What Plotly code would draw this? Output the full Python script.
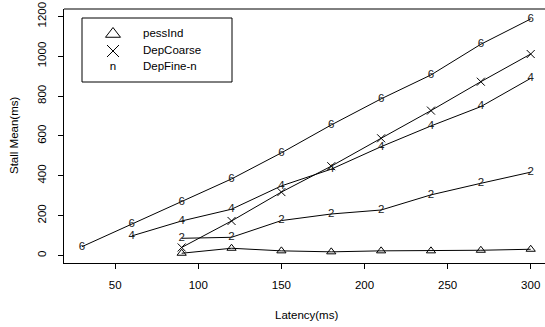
import plotly.graph_objects as go

# ---- data ----
latency_pess = [90, 120, 150, 180, 210, 240, 270, 300]
pess_ind = [11, 36, 23, 18, 23, 23, 26, 31]

latency_coarse = [90, 120, 150, 180, 210, 240, 270, 300]
dep_coarse = [40, 173, 318, 448, 588, 727, 872, 1011]

latency_fine2 = [90, 120, 150, 180, 210, 240, 270, 300]
dep_fine2 = [86, 91, 175, 208, 228, 304, 362, 418]

latency_fine4 = [60, 90, 120, 150, 180, 210, 240, 270, 300]
dep_fine4 = [98, 173, 232, 349, 433, 546, 650, 747, 889]

latency_fine6 = [30, 60, 90, 120, 150, 180, 210, 240, 270, 300]
dep_fine6 = [44, 157, 270, 384, 515, 655, 786, 906, 1060, 1187]

x_ticks = [50, 100, 150, 200, 250, 300]
y_ticks = [0, 200, 400, 600, 800, 1000, 1200]

legend_labels = ["pessInd", "DepCoarse", "DepFine-n"]

FONT = "Liberation Sans, Arial, Helvetica, sans-serif"
FS = 11.5
LINE = dict(color="black", width=1)

fig = go.Figure()

fig.add_trace(go.Scatter(x=latency_pess, y=pess_ind, mode="lines+markers",
                         line=LINE, marker=dict(symbol="triangle-up-open", size=8,
                                                color="black", line=dict(width=1, color="black")),
                         showlegend=False))
fig.add_trace(go.Scatter(x=latency_coarse, y=dep_coarse, mode="lines+markers",
                         line=LINE, marker=dict(symbol="x-thin-open", size=8,
                                                color="black", line=dict(width=1, color="black")),
                         showlegend=False))
for xs, ys, lab in [(latency_fine2, dep_fine2, "2"),
                    (latency_fine4, dep_fine4, "4"),
                    (latency_fine6, dep_fine6, "6")]:
    fig.add_trace(go.Scatter(x=xs, y=ys, mode="lines+text", line=LINE,
                             text=[lab] * len(xs), textposition="middle center",
                             textfont=dict(family=FONT, size=FS, color="#222"),
                             showlegend=False))

# ---- manual legend (overlay axis in pixel space) ----
fig.add_trace(go.Scatter(x=[113], y=[34], xaxis="x2", yaxis="y2", mode="markers",
                         marker=dict(symbol="triangle-up-open", size=13, color="black",
                                     line=dict(width=1, color="black")),
                         showlegend=False, hoverinfo="skip"))
fig.add_trace(go.Scatter(x=[113], y=[51], xaxis="x2", yaxis="y2", mode="markers",
                         marker=dict(symbol="x-thin-open", size=12, color="black",
                                     line=dict(width=1, color="black")),
                         showlegend=False, hoverinfo="skip"))
fig.add_trace(go.Scatter(x=[113], y=[67], xaxis="x2", yaxis="y2", mode="text",
                         text=["n"], textposition="middle center",
                         textfont=dict(family=FONT, size=FS, color="black"),
                         showlegend=False, hoverinfo="skip"))
for lab, py in zip(legend_labels, [34, 51, 67]):
    fig.add_trace(go.Scatter(x=[143], y=[py], xaxis="x2", yaxis="y2", mode="text",
                             text=[lab], textposition="middle right",
                             textfont=dict(family=FONT, size=FS, color="black"),
                             showlegend=False, hoverinfo="skip"))

fig.update_layout(
    width=545, height=327,
    margin=dict(l=64, r=0, t=9, b=64, autoexpand=False),
    paper_bgcolor="white", plot_bgcolor="white",
    font=dict(family=FONT, size=FS, color="black"),
    xaxis=dict(range=[19.2, 308.6], tickvals=x_ticks, ticks="outside", ticklen=5,
               tickcolor="black", showline=True, linecolor="black", linewidth=1,
               showgrid=False, zeroline=False, ticklabelstandoff=6, automargin=False,
               tickfont=dict(family=FONT, size=FS, color="black")),
    yaxis=dict(range=[-38, 1237], tickvals=y_ticks, ticks="outside", ticklen=5,
               tickcolor="black", showline=True, linecolor="black", linewidth=1,
               showgrid=False, zeroline=False, tickangle=-90, ticklabelstandoff=7,
               automargin=False,
               tickfont=dict(family=FONT, size=FS, color="black")),
    xaxis2=dict(range=[64, 545], overlaying="x", visible=False),
    yaxis2=dict(range=[263, 9], overlaying="y", visible=False),
    shapes=[
        dict(type="line", xref="paper", yref="paper", x0=0, x1=1, y0=1, y1=1,
             line=dict(color="black", width=1)),
        dict(type="rect", xref="paper", yref="paper",
             x0=(82 - 64) / 481, x1=(232 - 64) / 481,
             y0=(263 - 82) / 254, y1=(263 - 18) / 254,
             line=dict(color="black", width=1), fillcolor="rgba(0,0,0,0)"),
    ],
    annotations=[
        dict(text="Latency(ms)", xref="paper", yref="paper",
             x=(306 - 64) / 481, y=(263 - 315) / 254, showarrow=False,
             xanchor="center", yanchor="middle", font=dict(size=FS)),
        dict(text="Stall Mean(ms)", xref="paper", yref="paper",
             x=(14 - 64) / 481, y=0.5, showarrow=False, textangle=-90,
             xanchor="center", yanchor="middle", font=dict(size=FS)),
    ],
)

fig.write_html("out.html", config={"displayModeBar": False},
               post_script="document.body.style.margin='0';document.body.style.overflow='hidden';")
